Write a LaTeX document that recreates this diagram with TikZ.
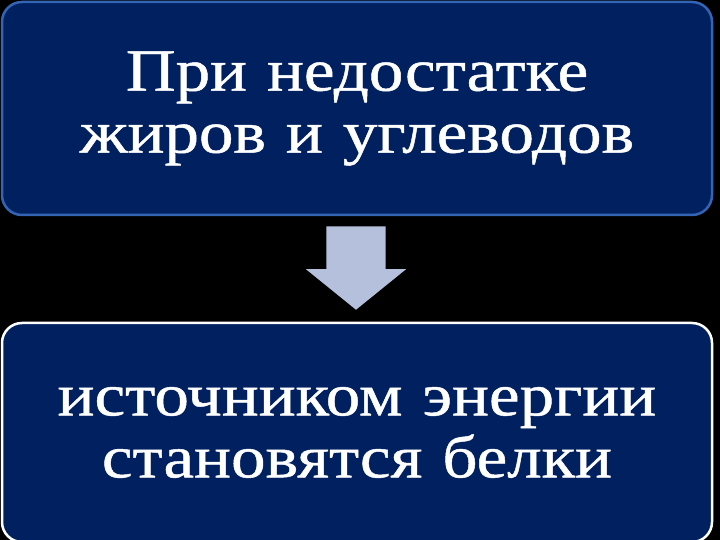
\documentclass[tikz,border=0pt]{standalone}
\usepackage{fontspec}
\setmainfont{Liberation Serif}[FakeStretch=1.15,FakeBold=0.8]
\usetikzlibrary{shapes.arrows,positioning}
\definecolor{navy}{RGB}{0,32,96}
\definecolor{edgeblue}{RGB}{52,100,180}
\definecolor{arrowgray}{RGB}{180,192,220}
\tikzset{
    %Define style for boxes
    stagebox/.style={
           rectangle,
           rounded corners=20pt,
           fill=navy,
           line width=2.5pt,
           minimum width=710pt,
           text width=690pt,
           align=center,
           text=white,
           font=\fontsize{60}{62}\selectfont},
    % Define block arrow style
    downarrow/.style={
           single arrow,
           shape border rotate=270,
           fill=arrowgray,
           inner sep=29.5pt,
           single arrow head extend=20.5pt,
           single arrow tip angle=102,
           minimum height=82pt}
}
\begin{document}
\begin{tikzpicture}[x=1pt,y=1pt]
\fill[black] (0,0) rectangle (720,540);
\useasboundingbox (0,0) rectangle (720,540);

 %nodes
\node[stagebox, draw=edgeblue, minimum height=213pt] (lack) at (357,431.5)
    {При недостатке\\жиров и углеводов};
\node[stagebox, draw=white, minimum height=219pt] (proteins) at (357,107.5)
    {источником энергии\\становятся белки};
\node[downarrow] (step1) at (356,284) {};
\end{tikzpicture}
\end{document}
